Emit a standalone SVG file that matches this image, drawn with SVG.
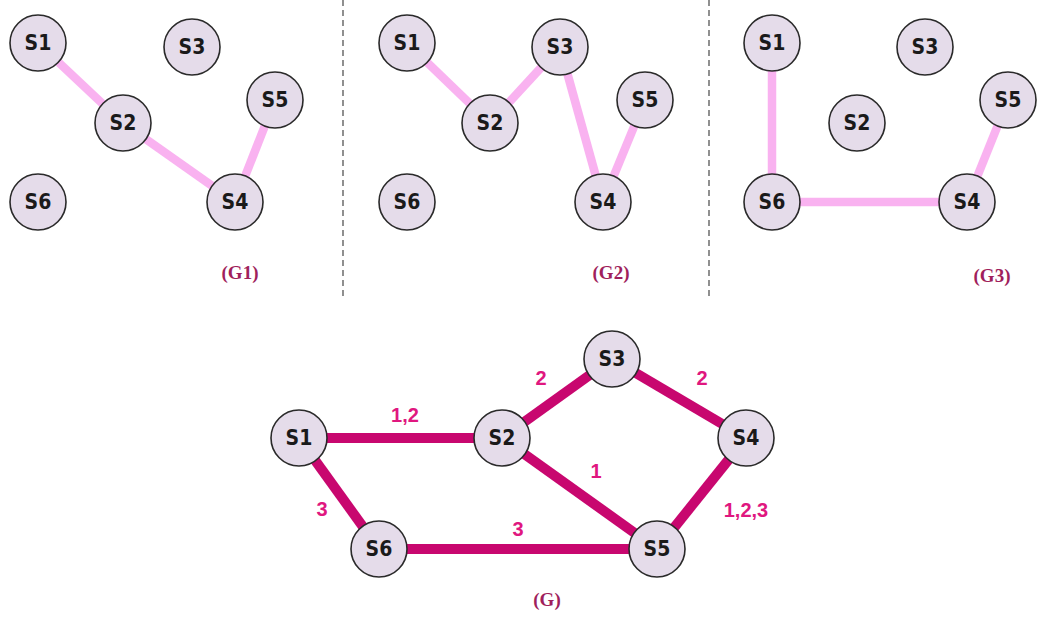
<svg xmlns="http://www.w3.org/2000/svg" width="1039" height="617" viewBox="0 0 1039 617">
<style>
.n circle{fill:#e5dcea;stroke:#2a2a2a;stroke-width:1.6}
.n text{font-family:"DejaVu Sans Condensed","DejaVu Sans",sans-serif;font-stretch:condensed;font-weight:bold;font-size:21px;fill:#1a1a1a;text-anchor:middle;dominant-baseline:central}
.le{stroke:#f9b2f0;stroke-width:8.5;stroke-linecap:butt}
.de{stroke:#c8076f;stroke-width:10;stroke-linecap:butt}
.cap{font-family:"Liberation Serif",serif;font-weight:bold;font-size:19px;fill:#a01f5c;text-anchor:middle}
.el{font-family:"Liberation Sans",sans-serif;font-weight:bold;font-size:20px;fill:#e0177f;text-anchor:middle}
.sep{stroke:#555;stroke-width:1.3;stroke-dasharray:6 4}
</style>
<rect width="1039" height="617" fill="#fff"/>
<g id="separators">
<line class="sep" x1="343" y1="0" x2="343" y2="300"/>
<line class="sep" x1="709" y1="0" x2="709" y2="300" stroke="#222"/>
</g>
<g id="connectors">
<line class="le" x1="38" y1="43" x2="123" y2="123"/>
<line class="le" x1="123" y1="123" x2="235" y2="202"/>
<line class="le" x1="235" y1="202" x2="275" y2="100"/>
<line class="le" x1="407" y1="43" x2="490" y2="123"/>
<line class="le" x1="490" y1="123" x2="560" y2="47"/>
<line class="le" x1="560" y1="47" x2="603" y2="202"/>
<line class="le" x1="603" y1="202" x2="645" y2="100"/>
<line class="le" x1="772" y1="43" x2="772" y2="202"/>
<line class="le" x1="772" y1="202" x2="967" y2="202"/>
<line class="le" x1="967" y1="202" x2="1008" y2="100"/>
<line class="de" x1="299" y1="438" x2="502" y2="438"/>
<line class="de" x1="502" y1="438" x2="612" y2="359"/>
<line class="de" x1="612" y1="359" x2="746" y2="438"/>
<line class="de" x1="502" y1="438" x2="657" y2="549"/>
<line class="de" x1="746" y1="438" x2="657" y2="549"/>
<line class="de" x1="299" y1="438" x2="379" y2="549"/>
<line class="de" x1="379" y1="549" x2="657" y2="549"/>
</g>
<g id="edge-labels">
<text class="el" x="405" y="422">1,2</text>
<text class="el" x="541" y="385">2</text>
<text class="el" x="702" y="385">2</text>
<text class="el" x="596" y="478">1</text>
<text class="el" x="746" y="517">1,2,3</text>
<text class="el" x="322" y="516">3</text>
<text class="el" x="518" y="536">3</text>
</g>
<g id="g1-s1" class="n"><circle cx="38" cy="43" r="28"/><text x="38" y="43">S1</text></g>
<g id="g1-s2" class="n"><circle cx="123" cy="123" r="28"/><text x="123" y="123">S2</text></g>
<g id="g1-s3" class="n"><circle cx="192" cy="47" r="28"/><text x="192" y="47">S3</text></g>
<g id="g1-s4" class="n"><circle cx="235" cy="202" r="28"/><text x="235" y="202">S4</text></g>
<g id="g1-s5" class="n"><circle cx="275" cy="100" r="28"/><text x="275" y="100">S5</text></g>
<g id="g1-s6" class="n"><circle cx="38" cy="202" r="28"/><text x="38" y="202">S6</text></g>
<g id="g2-s1" class="n"><circle cx="407" cy="43" r="28"/><text x="407" y="43">S1</text></g>
<g id="g2-s2" class="n"><circle cx="490" cy="123" r="28"/><text x="490" y="123">S2</text></g>
<g id="g2-s3" class="n"><circle cx="560" cy="47" r="28"/><text x="560" y="47">S3</text></g>
<g id="g2-s4" class="n"><circle cx="603" cy="202" r="28"/><text x="603" y="202">S4</text></g>
<g id="g2-s5" class="n"><circle cx="645" cy="100" r="28"/><text x="645" y="100">S5</text></g>
<g id="g2-s6" class="n"><circle cx="407" cy="202" r="28"/><text x="407" y="202">S6</text></g>
<g id="g3-s1" class="n"><circle cx="772" cy="43" r="28"/><text x="772" y="43">S1</text></g>
<g id="g3-s2" class="n"><circle cx="857" cy="123" r="28"/><text x="857" y="123">S2</text></g>
<g id="g3-s3" class="n"><circle cx="925" cy="47" r="28"/><text x="925" y="47">S3</text></g>
<g id="g3-s4" class="n"><circle cx="967" cy="202" r="28"/><text x="967" y="202">S4</text></g>
<g id="g3-s5" class="n"><circle cx="1008" cy="100" r="28"/><text x="1008" y="100">S5</text></g>
<g id="g3-s6" class="n"><circle cx="772" cy="202" r="28"/><text x="772" y="202">S6</text></g>
<g id="g-s1" class="n"><circle cx="299" cy="438" r="28"/><text x="299" y="438">S1</text></g>
<g id="g-s2" class="n"><circle cx="502" cy="438" r="28"/><text x="502" y="438">S2</text></g>
<g id="g-s3" class="n"><circle cx="612" cy="359" r="28"/><text x="612" y="359">S3</text></g>
<g id="g-s4" class="n"><circle cx="746" cy="438" r="28"/><text x="746" y="438">S4</text></g>
<g id="g-s5" class="n"><circle cx="657" cy="549" r="28"/><text x="657" y="549">S5</text></g>
<g id="g-s6" class="n"><circle cx="379" cy="549" r="28"/><text x="379" y="549">S6</text></g>
<g id="captions">
<text class="cap" x="240" y="279">(G1)</text>
<text class="cap" x="611" y="279">(G2)</text>
<text class="cap" x="992" y="282">(G3)</text>
<text class="cap" x="547" y="606">(G)</text>
</g>
</svg>
